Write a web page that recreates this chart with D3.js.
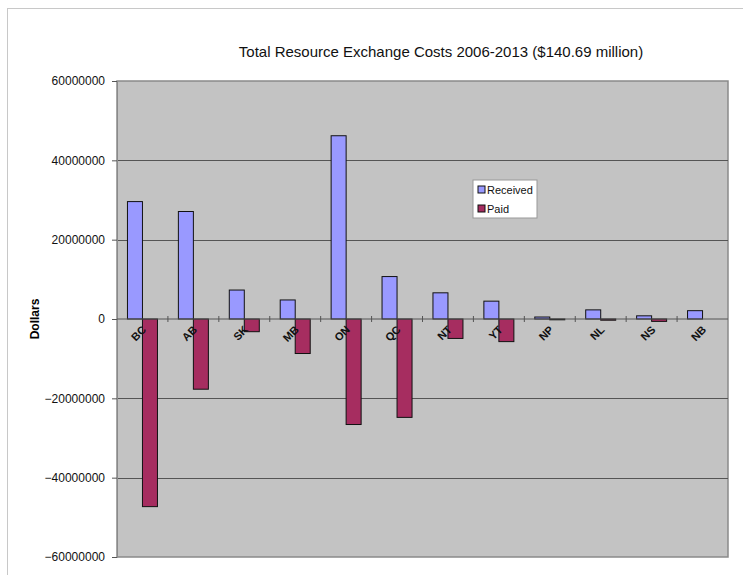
<!DOCTYPE html>
<html>
<head>
<meta charset="utf-8">
<script src="https://cdn.jsdelivr.net/npm/d3@7"></script>
<style>
  body { margin: 0; background: #fff; }
  text { font-family: "Liberation Sans", Arial, sans-serif; }
</style>
</head>
<body>
<svg id="chart"></svg>
<script>
// data
const provinces = ["BC", "AB", "SK", "MB", "ON", "QC", "NT", "YT", "NP", "NL", "NS", "NB"]
const received = [29600000, 27100000, 7300000, 4800000, 46200000, 10700000, 6600000, 4500000, 500000, 2300000, 800000, 2100000]
const paid = [-47300000, -17700000, -3200000, -8700000, -26600000, -24800000, -4900000, -5700000, -200000, -300000, -600000, 0]
const yTicks = [60000000, 40000000, 20000000, 0, -20000000, -40000000, -60000000]
const seriesNames = ["Received", "Paid"]
const seriesColors = ["#9999ff", "#a62d60"]

const svg = d3.select("#chart")
    .attr("width", 743)
    .attr("height", 575)

// chart area border
svg.append("rect")
    .attr("x", 7.5).attr("y", 8.5)
    .attr("width", 760).attr("height", 600)
    .attr("fill", "#fff")
    .attr("stroke", "#c8c8c8")

const plot = { left: 117, right: 728, top: 81, bottom: 557 }

const x = d3.scaleBand()
    .domain(provinces)
    .range([plot.left, plot.right])

const y = d3.scaleLinear()
    .domain([-60000000, 60000000])
    .range([plot.bottom, plot.top])

// plot background
svg.append("rect")
    .attr("x", plot.left).attr("y", plot.top)
    .attr("width", plot.right - plot.left)
    .attr("height", plot.bottom - plot.top)
    .attr("fill", "#c3c3c3")
    .attr("stroke", "#8a8a8a")
    .attr("stroke-width", 1.5)

// grid lines
svg.append("g")
    .selectAll("line")
    .data(yTicks.filter(d => d != 60000000 && d != -60000000 && d != 0))
    .join("line")
    .attr("x1", plot.left).attr("x2", plot.right)
    .attr("y1", d => Math.round(y(d)) + 0.5)
    .attr("y2", d => Math.round(y(d)) + 0.5)
    .attr("stroke", "#555")

// y axis
const yAxis = svg.append("g")
    .attr("transform", `translate(${plot.left},0)`)
    .call(d3.axisLeft(y).tickValues(yTicks).tickFormat(d => d3.format("d")(d)).tickSize(5).tickPadding(7))
yAxis.select(".domain").attr("stroke", "#8a8a8a")
yAxis.selectAll(".tick line").attr("stroke", "#555")
yAxis.selectAll("text").attr("font-size", 12).attr("fill", "#111")

svg.append("text")
    .attr("transform", `translate(39,${(plot.top + plot.bottom) / 2}) rotate(-90)`)
    .attr("text-anchor", "middle")
    .attr("font-size", 12)
    .attr("font-weight", "bold")
    .text("Dollars")

// bars
const barW = 15
const groups = svg.append("g")
    .selectAll("g")
    .data(provinces)
    .join("g")

groups.append("rect")
    .attr("x", d => x(d) + x.bandwidth() / 2 - barW)
    .attr("y", (d, i) => y(received[i]))
    .attr("width", barW)
    .attr("height", (d, i) => y(0) - y(received[i]))
    .attr("fill", seriesColors[0])
    .attr("stroke", "#111")
    .attr("stroke-width", 1)

groups.append("rect")
    .attr("x", d => x(d) + x.bandwidth() / 2)
    .attr("y", y(0))
    .attr("width", barW)
    .attr("height", (d, i) => y(paid[i]) - y(0))
    .attr("fill", seriesColors[1])
    .attr("stroke", "#111")
    .attr("stroke-width", 1)

// x axis at zero
const xAxis = svg.append("g")
    .attr("transform", `translate(0,${y(0)})`)
xAxis.append("line")
    .attr("x1", plot.left).attr("x2", plot.right)
    .attr("stroke", "#555")
xAxis.selectAll(".tk")
    .data(provinces.slice(1))
    .join("line")
    .attr("x1", d => x(d)).attr("x2", d => x(d))
    .attr("y1", -3).attr("y2", 3)
    .attr("stroke", "#555")
xAxis.selectAll(".lbl")
    .data(provinces)
    .join("text")
    .attr("transform", d => `translate(${x(d) + x.bandwidth() / 2 - 1},${6}) rotate(-45)`)
    .attr("text-anchor", "end")
    .attr("dy", "0.7em")
    .attr("font-size", 11)
    .attr("font-weight", "bold")
    .attr("fill", "#111")
    .text(d => d)

// title
svg.append("text")
    .attr("x", 441).attr("y", 57)
    .attr("text-anchor", "middle")
    .attr("font-size", 15)
    .attr("fill", "#111")
    .text("Total Resource Exchange Costs 2006-2013 ($140.69 million)")

// legend
const legend = svg.append("g").attr("transform", "translate(473,180)")
legend.append("rect")
    .attr("width", 64).attr("height", 38)
    .attr("fill", "#fff")
    .attr("stroke", "#999")
const items = legend.selectAll(".item")
    .data(seriesNames)
    .join("g")
    .attr("transform", (d, i) => `translate(5,${10 + i * 19})`)
items.append("rect")
    .attr("x", 0).attr("y", -4)
    .attr("width", 7).attr("height", 7)
    .attr("fill", (d, i) => seriesColors[i])
    .attr("stroke", "#111")
items.append("text")
    .attr("x", 9).attr("y", 4)
    .attr("font-size", 11)
    .attr("fill", "#111")
    .text(d => d)
</script>
</body>
</html>
